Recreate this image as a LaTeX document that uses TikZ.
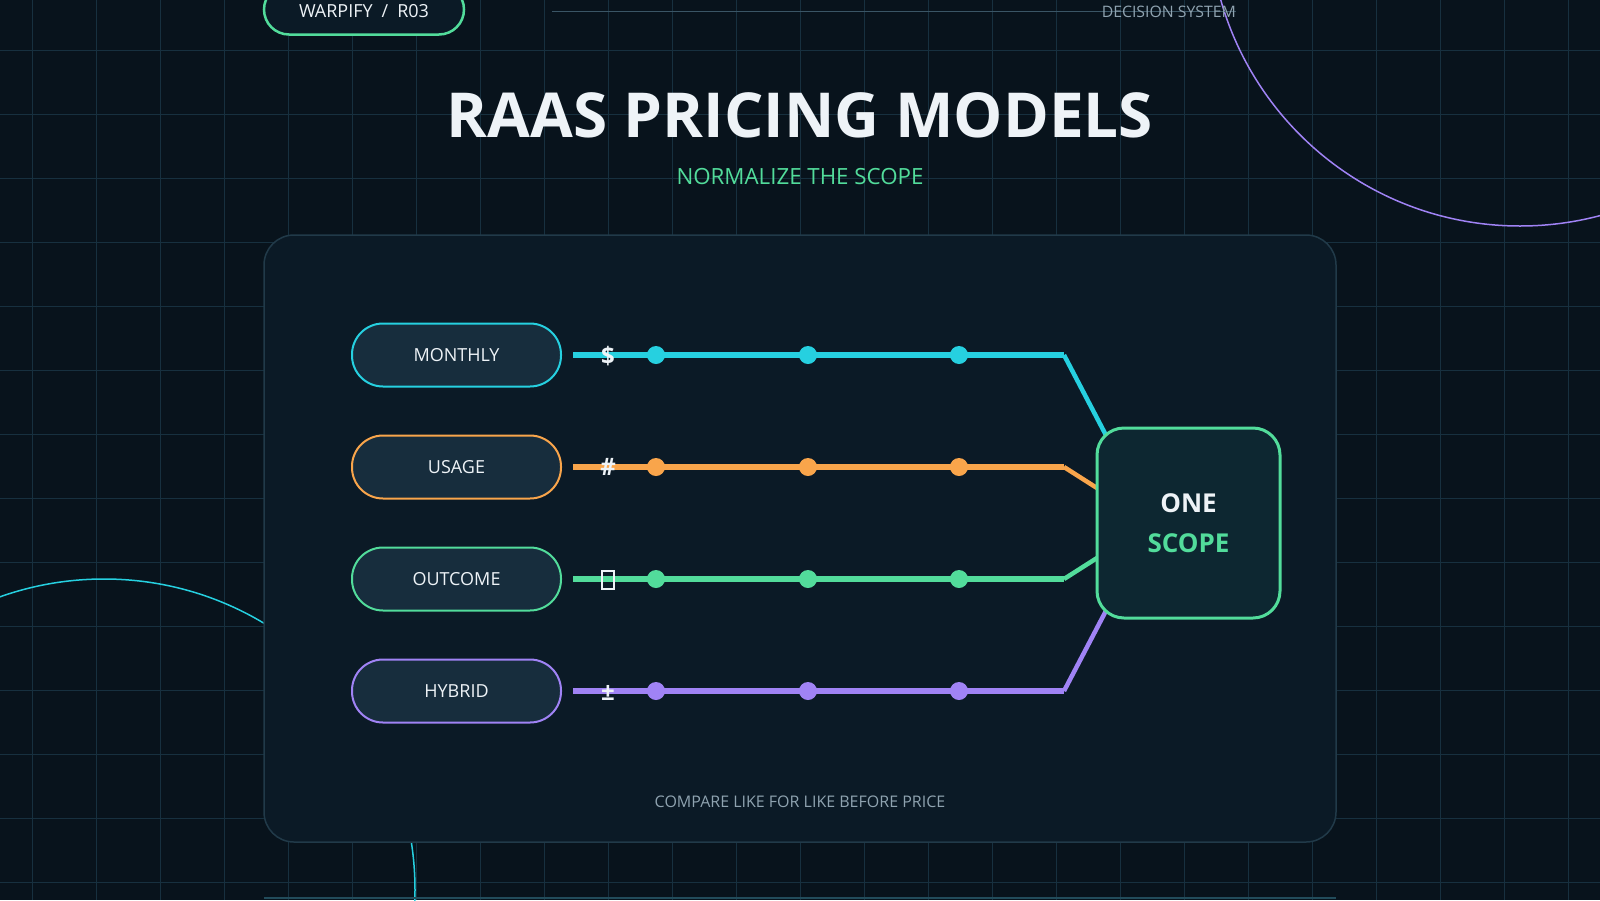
\documentclass[tikz,border=0pt]{standalone}
\usepackage{fontspec}
\setmainfont{Open Sans}
\usetikzlibrary{calc}
\definecolor{bgc}{HTML}{08131C}
\definecolor{gridc}{HTML}{17303F}
\definecolor{panelc}{HTML}{0B1A26}
\definecolor{panelb}{HTML}{213A49}
\definecolor{pillc}{HTML}{172D3D}
\definecolor{scopec}{HTML}{0D2731}
\definecolor{cyanc}{HTML}{26D0E0}
\definecolor{orangec}{HTML}{F9A54B}
\definecolor{greenc}{HTML}{52DC9B}
\definecolor{purplec}{HTML}{A083F5}
\definecolor{whitec}{HTML}{EEF3F7}
\definecolor{grayc}{HTML}{8FA3B0}
\definecolor{toplinec}{HTML}{3A5565}
\tikzset{
  pillbox/.style={draw=#1, line width=2pt, fill=pillc, rounded corners=31pt,
    minimum width=209pt, minimum height=63pt, inner sep=0pt, text=whitec,
    font=\fontsize{18}{18}\selectfont},
  hline/.style={draw=#1, line width=6pt},
  dline/.style={draw=#1, line width=4.5pt},
  dotn/.style={circle, fill=#1, minimum size=18pt, inner sep=0pt},
  symb/.style={text=whitec, inner sep=0pt, font=\fontsize{24}{24}\selectfont\bfseries},
  ring/.style={draw=#1, line width=1.5pt},
}
\begin{document}
\begin{tikzpicture}[x=1pt,y=-1pt]
\clip (0,0) rectangle (1600,900);
\fill[bgc] (0,0) rectangle (1600,900);
% grid
\foreach \x in {32,96,...,1600} \draw[gridc, line width=1pt] (\x,0) -- (\x,900);
\foreach \y in {50,114,...,900} \draw[gridc, line width=1pt] (0,\y) -- (1600,\y);
% decorative rings
\draw[ring=purplec] (1520,-85) circle[radius=311];
\draw[ring=cyanc] (104,890) circle[radius=311];
% header
\node[draw=greenc, line width=2.5pt, fill=panelc, rounded corners=25pt,
  minimum width=200pt, minimum height=50pt] (tag) at (364,9.5) {};
\node[text=whitec, inner sep=0pt, font=\fontsize{18}{18}\selectfont] (tagtxt) at (364,11.5)
  {WARPIFY\hspace{9pt}/\hspace{9pt}R03};
\coordinate (tl1) at (552,11.5);
\coordinate (tl2) at (1236,11.5);
\draw[toplinec, line width=1.5pt] (tl1) -- (tl2);
\node[anchor=east, text=grayc, inner sep=0pt, font=\fontsize{15.8}{16}\selectfont] (sys) at (1236,11.5) {DECISION SYSTEM};
% title
\node[text=whitec, inner sep=0pt, font=\fontsize{62}{62}\selectfont\bfseries] (title) at (800,115) {RAAS PRICING MODELS};
\node[text=greenc, inner sep=0pt, font=\fontsize{22.3}{22}\selectfont] (sub) at (800,176.5) {NORMALIZE THE SCOPE};
% bottom line
\coordinate (bl1) at (264,897.5);
\coordinate (bl2) at (1336,897.5);
\draw[panelb!80!cyanc!60!panelb, line width=2pt] (bl1) -- (bl2);
% panel
\node[draw=panelb, line width=1.5pt, fill=panelc, rounded corners=30pt,
  minimum width=1072pt, minimum height=607pt, inner sep=0pt] (card) at (800,538.5) {};
% pills
\node[pillbox=cyanc] (p1) at (456.5,355) {MONTHLY};
\node[pillbox=orangec] (p2) at (456.5,467) {USAGE};
\node[pillbox=greenc] (p3) at (456.5,579) {OUTCOME};
\node[pillbox=purplec] (p4) at (456.5,691) {HYBRID};
% scope centre and connectors
\coordinate (sc) at (1188.5,523);
\coordinate (b1) at (1064,355);
\coordinate (b2) at (1064,467);
\coordinate (b3) at (1064,579);
\coordinate (b4) at (1064,691);
\coordinate (t1) at ($(sc)+(-68,-60)$);
\coordinate (t2) at ($(sc)+(-68,-20)$);
\coordinate (t3) at ($(sc)+(-68,20)$);
\coordinate (t4) at ($(sc)+(-68,60)$);
\foreach \i/\c in {1/cyanc,2/orangec,3/greenc,4/purplec}{
  \draw[hline=\c] ([xshift=11pt]p\i.east) -- (b\i);
  \draw[dline=\c] (b\i) -- (t\i);
}
% dots
\foreach \i/\c/\y in {1/cyanc/355,2/orangec/467,3/greenc/579,4/purplec/691}{
  \node[dotn=\c] (d\i a) at (656,\y) {};
  \node[dotn=\c] (d\i b) at (808,\y) {};
  \node[dotn=\c] (d\i c) at (959,\y) {};
}
% symbols
\node[symb] (s1) at (608,356) {\$};
\node[symb] (s2) at (608,467) {\#};
\node[draw=whitec, line width=1.3pt, minimum width=12pt, minimum height=18pt, inner sep=0pt] (s3) at (608,580) {};
\node[symb] (s4) at (608,693) {±};
% scope box
\node[draw=greenc, line width=3pt, fill=scopec, rounded corners=27pt,
  minimum width=183pt, minimum height=190pt, inner sep=0pt, align=center,
  font=\fontsize{26}{40}\selectfont\bfseries, text=whitec] (scope) at (sc) {ONE\\\textcolor{greenc}{SCOPE}};
% footer
\node[text=grayc, inner sep=0pt, font=\fontsize{16}{16}\selectfont] (foot) at (800,801.5) {COMPARE LIKE FOR LIKE BEFORE PRICE};
\end{tikzpicture}
\end{document}
